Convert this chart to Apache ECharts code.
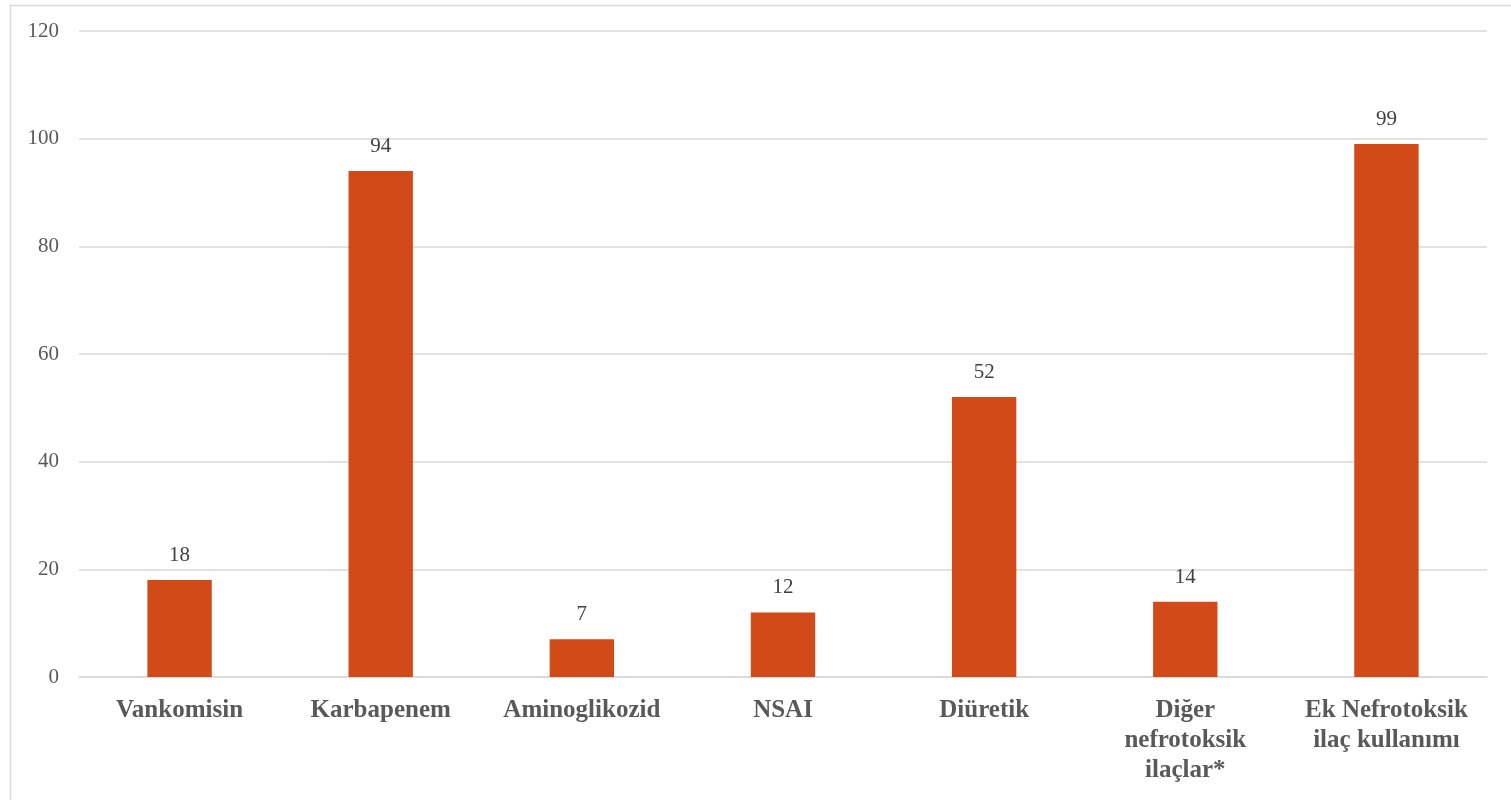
<!DOCTYPE html>
<html>
<head>
<meta charset="utf-8">
<script src="https://cdn.jsdelivr.net/npm/echarts@6/dist/echarts.min.js"></script>
<style>
  html, body { margin: 0; padding: 0; background: #fff; }
  #chart { width: 1511px; height: 800px; }
</style>
</head>
<body>
<div id="chart"></div>
<script>
// Nephrotoxic drug use counts
const categories = [
  'Vankomisin',
  'Karbapenem',
  'Aminoglikozid',
  'NSAI',
  'Diüretik',
  'Diğer\nnefrotoksik\nilaçlar*',
  'Ek Nefrotoksik\nilaç kullanımı'
];
const counts = [18, 94, 7, 12, 52, 14, 99];
const yTicks = { min: 0, max: 120, interval: 20 };

const serif = '"Liberation Serif", "DejaVu Serif", serif';
const chart = echarts.init(document.getElementById('chart'));
chart.setOption({
  backgroundColor: '#ffffff',
  animation: false,
  graphic: [{
    type: 'rect',
    left: 8, top: 3,
    shape: { width: 1510, height: 800 },
    style: { fill: 'none', stroke: '#d9d9d9', lineWidth: 1.5 },
    silent: true
  }],
  grid: { left: 79, right: 24, top: 31, bottom: 123 },
  xAxis: {
    type: 'category',
    data: categories,
    axisLine: { lineStyle: { color: '#d9d9d9', width: 1.5 } },
    axisTick: { show: false },
    axisLabel: {
      color: '#595959',
      fontFamily: serif,
      fontWeight: 'bold',
      fontSize: 25,
      lineHeight: 30,
      margin: 19,
      interval: 0,
      align: 'center'
    }
  },
  yAxis: {
    type: 'value',
    min: yTicks.min,
    max: yTicks.max,
    interval: yTicks.interval,
    axisLine: { show: false },
    axisTick: { show: false },
    splitLine: { lineStyle: { color: '#d9d9d9', width: 1.5 } },
    axisLabel: {
      color: '#595959',
      fontFamily: serif,
      fontSize: 21,
      margin: 20
    }
  },
  series: [{
    type: 'bar',
    data: counts,
    barWidth: '32%',
    itemStyle: { color: '#D24A18' },
    label: {
      show: true,
      position: 'top',
      distance: 14,
      color: '#404040',
      fontFamily: serif,
      fontSize: 21
    }
  }]
});
</script>
</body>
</html>
